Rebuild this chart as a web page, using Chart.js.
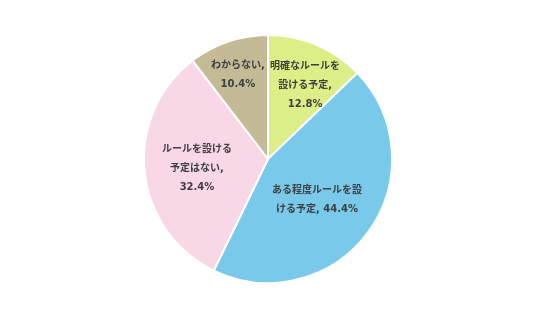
<!DOCTYPE html>
<html><head><meta charset="utf-8">
<script src="https://cdn.jsdelivr.net/npm/chart.js@4/dist/chart.umd.min.js"></script>
<style>html,body{margin:0;padding:0;background:#fff}#wrap{width:536px;height:322px}</style>
</head><body><div id="wrap"><canvas id="c" width="536" height="322"></canvas></div>
<script>
const categories = ['明確なルールを設ける予定', 'ある程度ルールを設ける予定', 'ルールを設ける予定はない', 'わからない'];
const values = [12.8, 44.4, 32.4, 10.4];
const labelLines = [
  ['明確なルールを', '設ける予定,', '12.8%'],
  ['ある程度ルールを設', 'ける予定, 44.4%'],
  ['ルールを設ける', '予定はない,', '32.4%'],
  ['わからない,', '10.4%']
];
const colors = ['#dcee88', '#78c9ea', '#f8d8e6', '#c4ba96'];
const labelRadius = [0.667, 0.515, 0.578, 0.72];
const labelAngleShift = [3.6, 4, -2, -1];

const labelPlugin = {
  id: 'sliceLabels',
  afterDatasetsDraw(chart) {
    const ctx = chart.ctx;
    const meta = chart.getDatasetMeta(0);
    ctx.save();
    ctx.font = 'bold 10px "DejaVu Sans", "Noto Sans CJK JP", sans-serif';
    ctx.fillStyle = '#3f3f3f';
    ctx.textAlign = 'center';
    ctx.textBaseline = 'middle';
    meta.data.forEach((arc, i) => {
      const p = arc.getProps(['x','y','startAngle','endAngle','outerRadius'], true);
      const mid = (p.startAngle + p.endAngle) / 2 + labelAngleShift[i] * Math.PI / 180;
      const r = p.outerRadius * labelRadius[i];
      const cx = p.x + Math.cos(mid) * r;
      const cy = p.y + Math.sin(mid) * r;
      const lines = labelLines[i];
      const lh = 19;
      lines.forEach((t, k) => {
        ctx.fillText(t, cx, cy + (k - (lines.length - 1) / 2) * lh);
      });
    });
    ctx.restore();
  }
};

new Chart(document.getElementById('c'), {
  type: 'pie',
  data: {
    labels: categories,
    datasets: [{ data: values, backgroundColor: colors, borderColor: '#ffffff', borderWidth: 2 }]
  },
  options: {
    responsive: false,
    animation: false,
    layout: { padding: { top: 34, bottom: 38, left: 0, right: 0 } },
    plugins: { legend: { display: false }, tooltip: { enabled: false } }
  },
  plugins: [labelPlugin]
});
</script>
</body></html>
